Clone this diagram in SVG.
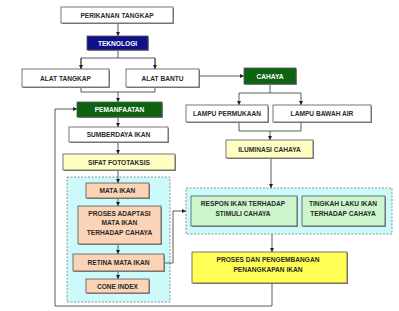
<svg xmlns="http://www.w3.org/2000/svg" width="399" height="311" viewBox="0 0 399 311">
<style>
.b{stroke:#555;stroke-width:0.8}
.sh{fill:#8a8a8a}
.w{fill:#fff}
.ly{fill:#ffffc4}
.pe{fill:#fbd3b6}
.lg{fill:#ccf5cc}
.ye{fill:#ffff55}
.db{fill:#10108a}
.dg{fill:#0c6412}
.ct{fill:#ccfafa;stroke:#777;stroke-width:0.8;stroke-dasharray:2,1.5}
text{font-family:"Liberation Sans",Arial,sans-serif;font-size:6.6px;font-weight:bold;fill:#2a2a2a;text-anchor:middle}
text.wt{fill:#fff}
.c{fill:none;stroke:#333;stroke-width:0.8}
</style>
<defs>
<marker id="a" viewBox="0 0 6 6" refX="6" refY="3" markerWidth="4" markerHeight="4" orient="auto" markerUnits="userSpaceOnUse"><path d="M0,0L6,3L0,6z" fill="#222"/></marker>
</defs>
<rect width="399" height="311" fill="#fff"/>
<g id="containers">
<rect id="left-group" class="ct" x="67" y="177" width="103" height="125"/>
<rect id="right-group" class="ct" x="186" y="188" width="206" height="46"/>
</g>
<g id="connectors">
<path class="c" d="M118,23V36" marker-end="url(#a)"/>
<path class="c" d="M118,50V58M81,58H155M81,58V69M155,58V69" />
<path class="c" d="M81,58V69" marker-end="url(#a)"/>
<path class="c" d="M155,58V69" marker-end="url(#a)"/>
<path class="c" d="M81,87V92H155V87"/>
<path class="c" d="M118,92V102" marker-end="url(#a)"/>
<path class="c" d="M199,76H244" marker-end="url(#a)"/>
<path class="c" d="M270,84V93M239,93H301"/>
<path class="c" d="M239,93V105" marker-end="url(#a)"/>
<path class="c" d="M301,93V105" marker-end="url(#a)"/>
<path class="c" d="M239,122V131H301V122"/>
<path class="c" d="M270,131V140" marker-end="url(#a)"/>
<path class="c" d="M271,158V188" marker-end="url(#a)"/>
<path class="c" d="M272,234V252" marker-end="url(#a)"/>
<path class="c" d="M272,283V306H55V109H77" marker-end="url(#a)"/>
<path class="c" d="M118,117V127" marker-end="url(#a)"/>
<path class="c" d="M118,142V154" marker-end="url(#a)"/>
<path class="c" d="M118,170V183" marker-end="url(#a)"/>
<path class="c" d="M118,198V206" marker-end="url(#a)"/>
<path class="c" d="M118,244V254" marker-end="url(#a)"/>
<path class="c" d="M118,271V279" marker-end="url(#a)"/>
<path class="c" d="M164,263H173V211H186" marker-end="url(#a)"/>
</g>
<g id="perikanan-tangkap"><rect class="sh" x="62" y="8" width="112" height="16"/><rect class="b w" x="61" y="7" width="112" height="16"/><text x="117" y="18">PERIKANAN  TANGKAP</text></g>
<g id="teknologi"><rect class="sh" x="88" y="37" width="61" height="14"/><rect class="b db" x="87" y="36" width="61" height="14"/><text class="wt" x="117.5" y="45.5">TEKNOLOGI</text></g>
<g id="alat-tangkap"><rect class="sh" x="23" y="70" width="87" height="18"/><rect class="b w" x="22" y="69" width="87" height="18"/><text x="65.5" y="80.5">ALAT TANGKAP</text></g>
<g id="alat-bantu"><rect class="sh" x="127" y="70" width="73" height="18"/><rect class="b w" x="126" y="69" width="73" height="18"/><text x="162.5" y="80.5">ALAT BANTU</text></g>
<g id="pemanfaatan"><rect class="sh" x="78" y="103" width="85" height="15"/><rect class="b dg" x="77" y="102" width="85" height="15"/><text class="wt" x="119.5" y="112">PEMANFAATAN</text></g>
<g id="sumberdaya-ikan"><rect class="sh" x="70" y="128" width="99" height="15"/><rect class="b w" x="69" y="127" width="99" height="15"/><text x="118.5" y="137">SUMBERDAYA IKAN</text></g>
<g id="cahaya"><rect class="sh" x="245" y="69" width="52" height="16"/><rect class="b dg" x="244" y="68" width="52" height="16"/><text class="wt" x="270" y="78.5">CAHAYA</text></g>
<g id="lampu-permukaan"><rect class="sh" x="187" y="106" width="82" height="17"/><rect class="b w" x="186" y="105" width="82" height="17"/><text x="227" y="116">LAMPU PERMUKAAN</text></g>
<g id="lampu-bawah-air"><rect class="sh" x="274" y="106" width="98" height="17"/><rect class="b w" x="273" y="105" width="98" height="17"/><text x="322" y="116">LAMPU BAWAH  AIR</text></g>
<g id="iluminasi-cahaya"><rect class="sh" x="227" y="141" width="87" height="18"/><rect class="b ly" x="226" y="140" width="87" height="18"/><text x="269.5" y="151.5">ILUMINASI CAHAYA</text></g>
<g id="sifat-fototaksis"><rect class="sh" x="64" y="155" width="112" height="16"/><rect class="b ly" x="63" y="154" width="112" height="16"/><text x="119" y="164.5">SIFAT FOTOTAKSIS</text></g>
<g id="mata-ikan"><rect class="sh" x="87" y="184" width="63" height="15"/><rect class="b pe" x="86" y="183" width="63" height="15"/><text x="117.5" y="193">MATA IKAN</text></g>
<g id="proses-adaptasi"><rect class="sh" x="79" y="207" width="83" height="38"/><rect class="b pe" x="78" y="206" width="83" height="38"/><text x="119.5" y="215.5">PROSES ADAPTASI</text><text x="119.5" y="225">MATA IKAN</text><text x="119.5" y="234.5">TERHADAP CAHAYA</text></g>
<g id="retina-mata-ikan"><rect class="sh" x="74" y="255" width="91" height="17"/><rect class="b pe" x="73" y="254" width="91" height="17"/><text x="118.5" y="265">RETINA MATA IKAN</text></g>
<g id="cone-index"><rect class="sh" x="87" y="280" width="63" height="14"/><rect class="b pe" x="86" y="279" width="63" height="14"/><text x="117.5" y="288.5">CONE  INDEX</text></g>
<g id="respon-ikan"><rect class="sh" x="192" y="197" width="106" height="30"/><rect class="b lg" x="191" y="196" width="106" height="30"/><text x="243" y="205.5">RESPON IKAN TERHADAP</text><text x="243" y="215.5">STIMULI CAHAYA</text></g>
<g id="tingkah-laku"><rect class="sh" x="303" y="197" width="83" height="30"/><rect class="b lg" x="302" y="196" width="83" height="30"/><text x="343" y="205.5">TINGKAH LAKU  IKAN</text><text x="343" y="215.5">TERHADAP CAHAYA</text></g>
<g id="proses-pengembangan"><rect class="sh" x="193" y="253" width="155" height="31"/><rect class="b ye" x="192" y="252" width="155" height="31"/><text x="268" y="261.5">PROSES DAN PENGEMBANGAN</text><text x="268" y="271.5">PENANGKAPAN  IKAN</text></g>
</svg>
